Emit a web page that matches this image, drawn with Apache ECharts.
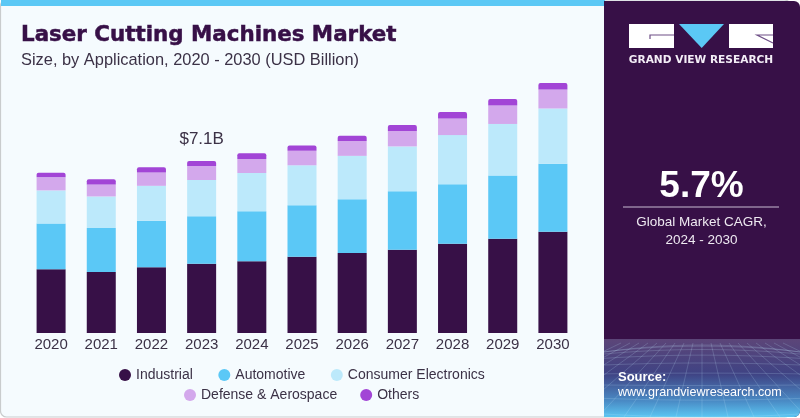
<!DOCTYPE html>
<html>
<head>
<meta charset="utf-8">
<style>
  html, body { margin: 0; padding: 0; background: #ffffff; }
  #chart { width: 800px; height: 418px; }
</style>
<script src="https://cdn.jsdelivr.net/npm/echarts@6/dist/echarts.min.js"></script>
</head>
<body>
<div id="chart"></div>
<script>
// values, USD billion
var years = ["2020", "2021", "2022", "2023", "2024", "2025", "2026", "2027", "2028", "2029", "2030"];
var industrial = [2.64, 2.52, 2.72, 2.87, 2.97, 3.16, 3.31, 3.45, 3.69, 3.90, 4.19];
var automotive = [1.89, 1.82, 1.92, 1.96, 2.07, 2.13, 2.22, 2.42, 2.47, 2.62, 2.81];
var consumer = [1.37, 1.31, 1.45, 1.50, 1.58, 1.65, 1.80, 1.85, 2.03, 2.13, 2.29];
var defense = [0.54, 0.50, 0.55, 0.58, 0.58, 0.60, 0.62, 0.64, 0.69, 0.76, 0.79];
var others = [0.19, 0.21, 0.22, 0.21, 0.24, 0.22, 0.21, 0.25, 0.26, 0.27, 0.26];
var calloutYear = "2023";
var calloutText = "$7.1B";

var FONT = "Liberation Sans";
var DARK = "#371047";
var TEXT = "#3b3146";
var names = ["Industrial", "Automotive", "Consumer Electronics", "Defense & Aerospace", "Others"];
var colors = [DARK, "#5bc8f6", "#bce9fb", "#d3a8ec", "#a245d6"];

function barSeries(i, values) {
  return {
    name: names[i],
    type: "bar",
    stack: "total",
    barWidth: 29,
    itemStyle: { color: colors[i] },
    data: values
  };
}

var topSeries = barSeries(4, others.map(function (v, i) {
  if (years[i] !== calloutYear) return v;
  return {
    value: v,
    label: {
      show: true,
      position: "top",
      distance: 13,
      formatter: calloutText,
      fontFamily: FONT,
      fontSize: 17,
      color: TEXT
    }
  };
}));
topSeries.itemStyle.borderRadius = [2, 2, 0, 0];

// background mesh in the lower corner of the side panel
function meshLines() {
  var out = [];
  var x0 = 604, x1 = 800, y0 = 339, y1 = 417, cx = 702;
  var lineStyle = { stroke: "#bfe6fa", lineWidth: 0.6, opacity: 0.32 };
  for (var r = 0; r < 9; r++) {
    var t = r / 8;
    var base = y0 + 6 + (y1 - y0 - 6) * t * t;
    var pts = [];
    for (var s = 0; s <= 14; s++) {
      var u = s / 14;
      var bend = Math.pow(Math.abs(u - 0.5) * 2, 2) * (7 - 10 * t);
      pts.push([x0 + (x1 - x0) * u, Math.min(y1, Math.max(y0, base + bend))]);
    }
    out.push({ type: "polyline", z: 3, shape: { points: pts }, style: lineStyle });
  }
  for (var v = -9; v <= 9; v++) {
    var ax = cx + v * 9, bx = cx + v * 26, by = y1;
    // stop the line at the panel edge
    var edge = bx < x0 ? x0 : (bx > x1 ? x1 : bx);
    if (edge !== bx) {
      by = y0 + 4 + (y1 - y0 - 4) * (edge - ax) / (bx - ax);
      bx = edge;
    }
    out.push({
      type: "line",
      z: 3,
      shape: { x1: ax, y1: y0 + 4, x2: bx, y2: by },
      style: lineStyle
    });
  }
  return out;
}

var decor = [
  // card
  { type: "rect", z: 0, shape: { x: 0.5, y: 0, width: 790, height: 417, r: 6 },
    style: { fill: "#f5fbfe", stroke: "#c9cccd", lineWidth: 1.2 } },
  { type: "rect", z: 1, shape: { x: 1, y: 0, width: 604, height: 6 }, style: { fill: "#5bc8f5" } },
  // side panel
  { type: "rect", z: 2, shape: { x: 604, y: 1, width: 196, height: 416, r: [0, 6, 6, 0] }, style: { fill: DARK } },
  { type: "rect", z: 2, shape: { x: 604, y: 339, width: 196, height: 78, r: [0, 0, 6, 0] },
    style: {
      fill: new echarts.graphic.LinearGradient(0, 0, 0, 1, [
        { offset: 0, color: "#5c4578" },
        { offset: 0.45, color: "#3f4384" },
        { offset: 0.8, color: "#4a8cc6" },
        { offset: 1, color: "#5bc6f2" }
      ])
    } },
  // logo
  { type: "rect", z: 4, shape: { x: 629, y: 24, width: 45, height: 24 }, style: { fill: "#ffffff" } },
  { type: "polygon", z: 4, shape: { points: [[679, 24], [724, 24], [701.7, 48]] }, style: { fill: "#5bc8f5" } },
  { type: "rect", z: 4, shape: { x: 729, y: 24, width: 44, height: 24 }, style: { fill: "#ffffff" } },
  { type: "polyline", z: 5, shape: { points: [[674, 35], [650, 35], [650, 39]] }, style: { stroke: "#6e4f86", lineWidth: 1.2, fill: null } },
  { type: "polyline", z: 5, shape: { points: [[773, 35], [757, 35], [773, 43]] }, style: { stroke: "#6e4f86", lineWidth: 1.2, fill: null } },
  { type: "text", z: 5, style: { x: 701, y: 60, text: "GRAND VIEW RESEARCH", fill: "#f3edf6", font: "bold 10.6px 'DejaVu Sans'", align: "center", verticalAlign: "middle" } },
  // CAGR
  { type: "text", z: 5, style: { x: 701.5, y: 187, text: "5.7%", fill: "#ffffff", font: "bold 37px 'Liberation Sans'", align: "center", verticalAlign: "middle" } },
  { type: "line", z: 5, shape: { x1: 623, y1: 207, x2: 779, y2: 207 }, style: { stroke: "#c9bbd3", lineWidth: 1 } },
  { type: "text", z: 5, style: { x: 701.5, y: 222.5, text: "Global Market CAGR,", fill: "#eee9f1", font: "13.5px 'Liberation Sans'", align: "center", verticalAlign: "middle" } },
  { type: "text", z: 5, style: { x: 701.5, y: 240.5, text: "2024 - 2030", fill: "#eee9f1", font: "13.5px 'Liberation Sans'", align: "center", verticalAlign: "middle" } },
  // source
  { type: "text", z: 5, style: { x: 618, y: 377, text: "Source:", fill: "#ffffff", font: "bold 13px 'Liberation Sans'", verticalAlign: "middle" } },
  { type: "text", z: 5, style: { x: 618, y: 393, text: "www.grandviewresearch.com", fill: "#ffffff", font: "12.6px 'Liberation Sans'", verticalAlign: "middle" } }
].concat(meshLines());

var option = {
  animation: false,
  backgroundColor: "#ffffff",
  title: {
    text: "Laser Cutting Machines Market",
    subtext: "Size, by Application, 2020 - 2030 (USD Billion)",
    left: 16,
    top: 20,
    itemGap: 6,
    textStyle: {
      fontFamily: "DejaVu Sans",
      fontWeight: "bold",
      fontSize: 21.4,
      color: DARK,
      textBorderColor: DARK,
      textBorderWidth: 0.5
    },
    subtextStyle: { fontFamily: FONT, fontSize: 16.4, color: TEXT }
  },
  graphic: { elements: decor },
  legend: [
    {
      data: names.slice(0, 3),
      left: 114,
      top: 363,
      icon: "circle",
      itemWidth: 12,
      itemHeight: 12,
      itemGap: 25.5,
      selectedMode: false,
      textStyle: { fontFamily: FONT, fontSize: 14, color: TEXT }
    },
    {
      data: names.slice(3),
      left: 179,
      top: 383,
      icon: "circle",
      itemWidth: 12,
      itemHeight: 12,
      itemGap: 23,
      selectedMode: false,
      textStyle: { fontFamily: FONT, fontSize: 14, color: TEXT }
    }
  ],
  grid: { left: 26, right: 222, top: 43, bottom: 85 },
  xAxis: {
    type: "category",
    data: years,
    axisLine: { show: false },
    axisTick: { show: false },
    axisLabel: { margin: 4, fontFamily: FONT, fontSize: 15, color: TEXT }
  },
  yAxis: { type: "value", min: 0, max: 12, show: false, splitLine: { show: false } },
  series: [
    barSeries(0, industrial),
    barSeries(1, automotive),
    barSeries(2, consumer),
    barSeries(3, defense),
    topSeries
  ]
};

var myChart = echarts.init(document.getElementById("chart"));
myChart.setOption(option);
</script>
</body>
</html>
